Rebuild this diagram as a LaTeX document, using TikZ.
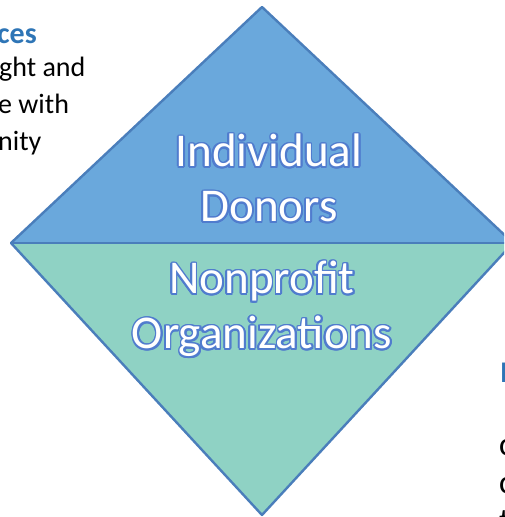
\documentclass[tikz,border=0pt]{standalone}
\usepackage{fontspec}
\setmainfont{Carlito}
\usepackage{contour}
\usepackage{tikz}
\usetikzlibrary{positioning}
\contourlength{1.7pt}
\definecolor{donorblue}{RGB}{106,168,220}
\definecolor{orgteal}{RGB}{143,210,196}
\definecolor{edgeblue}{RGB}{74,126,187}
\definecolor{glowblue}{RGB}{80,124,206}
\definecolor{headblue}{RGB}{46,117,182}
\newcommand{\glowtext}[1]{\contour{glowblue}{\textcolor{white}{#1}}}

\begin{document}
\begin{tikzpicture}[x=1pt,y=-1pt]
			\tikzstyle{HalfStyle}  = [draw=edgeblue, line width=2.4pt, line join=round]
			\tikzstyle{LabelStyle} = [font=\fontsize{47}{55}\selectfont, align=center, inner sep=0pt]
			\tikzstyle{HeadStyle}  = [font=\fontsize{30}{36}\bfseries, text=headblue, anchor=base west, inner sep=0pt]
			\tikzstyle{BodyStyle}  = [font=\fontsize{28}{37}\selectfont, anchor=base west, inner sep=0pt]
			\useasboundingbox (0,0) rectangle (504,517);
			\clip (0,0) rectangle (504,517);
			% corners of the diamond
			\coordinate (T) at (262,7);
			\coordinate (L) at (11,243);
			\coordinate (R) at (513,243);
			\coordinate (B) at (262,515);
			\fill[orgteal] (L) -- (B) -- (R) -- cycle;
			\fill[donorblue] (L) -- (T) -- (R) -- cycle;
			\draw[HalfStyle] (L) -- (T) -- (R) -- (B) -- cycle;
			\draw[HalfStyle] (L) -- (R);
			% labels
			\node[LabelStyle] (donors) at (269,179) {\glowtext{Individual}\\\glowtext{Donors}};
			\node[LabelStyle] (orgs) at (262,310) {\glowtext{Nonprofit}\\\glowtext{Organizations}};
			% text cut by the left edge
			\node[HeadStyle] (lhead) at (-3,43) {ces};
			\node[BodyStyle] (lline1) at (-1,76) {ght and};
			\node[BodyStyle] (lline2) at (-2,113) {e with};
			\node[BodyStyle] (lline3) at (-2,150) {nity};
			\node[BodyStyle] (lline4) at (-13,386) {n};
			% text cut by the right edge
			\node[HeadStyle] (rhead) at (500,382) {I};
			\node[BodyStyle, font=\fontsize{33}{38}\selectfont] (rline1) at (499,455) {c};
			\node[BodyStyle, font=\fontsize{33}{38}\selectfont] (rline2) at (499,493) {c};
			\node[BodyStyle, font=\fontsize{33}{38}\selectfont] (rline3) at (499,531) {t};
		\end{tikzpicture}
\end{document}
